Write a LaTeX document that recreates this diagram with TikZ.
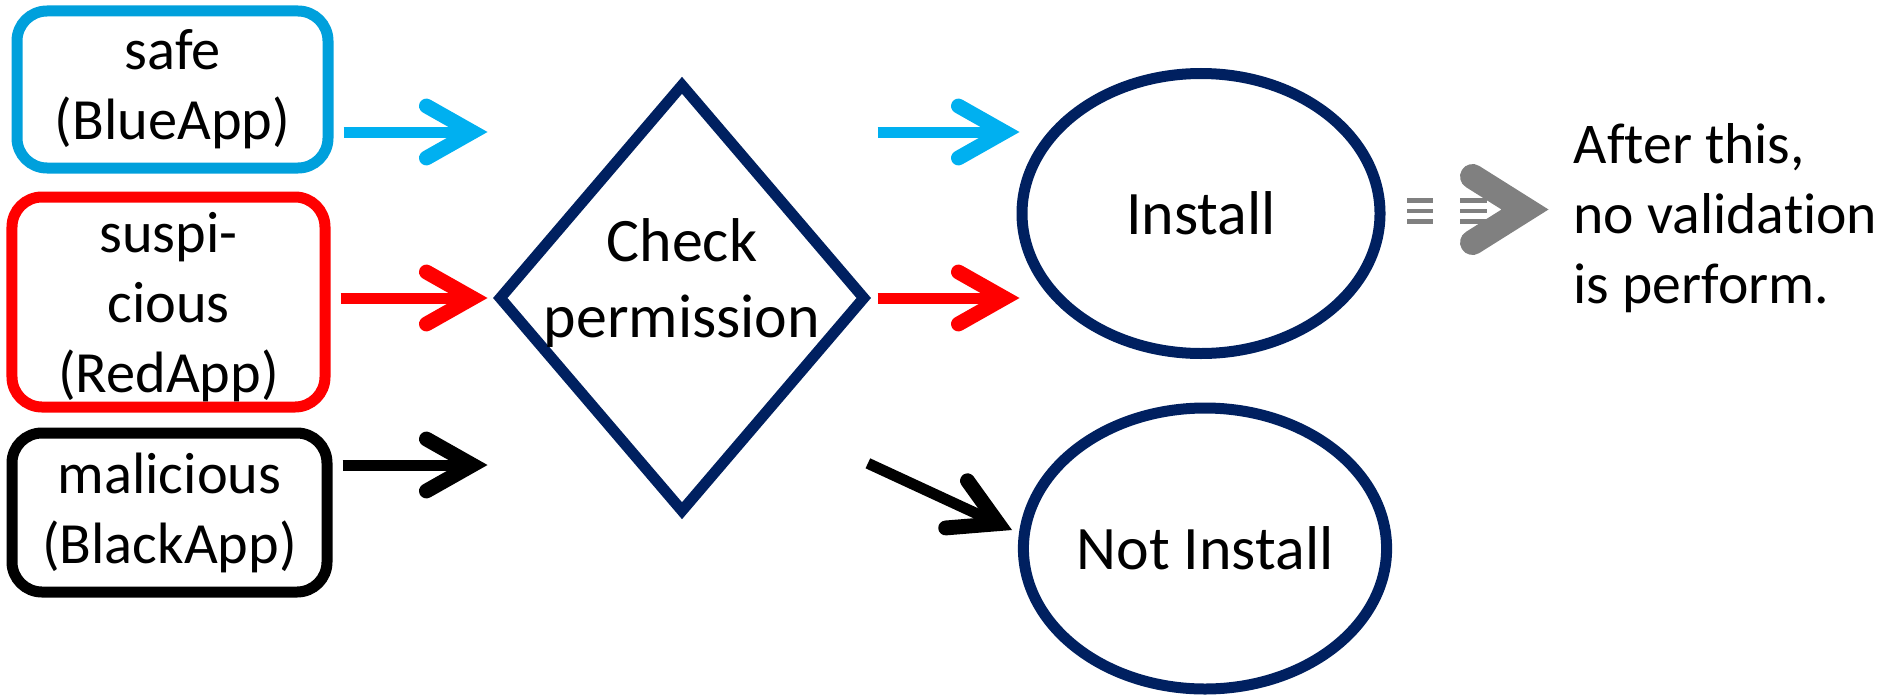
\documentclass[tikz,border=0pt]{standalone}
\usepackage{fontspec}
\setmainfont[Ligatures=NoCommon]{Carlito}
\usetikzlibrary{shapes.geometric,arrows.meta}
\definecolor{appblue}{RGB}{0,160,220}
\definecolor{arrblue}{RGB}{0,176,240}
\definecolor{navy}{RGB}{0,32,96}
\definecolor{icongray}{RGB}{128,128,128}
\begin{document}
\begin{tikzpicture}
  \tikzstyle{app}=[draw,rounded corners=3mm,line width=1.1mm,align=center,inner sep=0pt,font=\fontsize{16.6}{19.9}\selectfont]
  \tikzstyle{state}=[ellipse,draw=navy,line width=1.1mm,inner sep=0pt,minimum width=3.58cm,minimum height=2.8cm,font=\fontsize{17.6}{21}\selectfont]
  \tikzstyle{edge}=[line width=1.1mm,-{Straight Barb[length=4.6mm,width=5.2mm,line width=0pt 1.35,line cap=round,line join=miter]},shorten <=1mm,shorten >=0.5mm]
  \tikzstyle{fwd}=[edge,shorten <=0.6mm,shorten >=-0.3mm]
  \useasboundingbox (0,0) rectangle (18.89,6.95);
  % apps
  \node [app,draw=appblue,minimum width=3.11cm,minimum height=1.57cm] (safe) at (1.725,6.055) {safe\\(BlueApp)};
  \node [app,draw=red,minimum width=3.13cm,minimum height=2.1cm,text depth=0pt] (sus) at (1.685,3.93) {suspi-\\cious\\(RedApp)};
  \node [app,draw=black,minimum width=3.15cm,minimum height=1.59cm] (mal) at (1.695,1.825) {malicious\\(BlackApp)};
  % check and results
  \node [diamond,draw=navy,line width=1.1mm,inner sep=0pt,minimum width=3.68cm,minimum height=4.3cm,
    label={[align=center,yshift=1.5mm,font=\fontsize{17.6}{21.9}\selectfont]center:Check\\permission}] (check) at (6.82,3.97) {};
  \node [state] (install) at (12.01,4.815) {Install};
  \node [state,minimum width=3.6cm,minimum height=2.81cm] (notinst) at (12.05,1.465) {Not Install};
  \node [anchor=west,inner sep=0pt,align=left,font=\fontsize{16.4}{19.9}\selectfont] (note) at (15.73,4.765) {After this,\\no validation\\is perform.};
  \coordinate (rowA) at (0,5.63);
  \coordinate (rowC) at (0,2.30);
  \coordinate (notTip) at (10.12,1.65);
  % arrows
  \path[edge,arrblue] (safe.east |- rowA) edge (check.west |- rowA);
  \path[edge,red] (sus.east |- check.west) edge (check.west);
  \path[edge,black] (mal.east |- rowC) edge (check.west |- rowC);
  \path[fwd,arrblue] (check.east |- rowA) edge (install.west |- rowA);
  \path[fwd,red] (check.east) edge (check.east -| install.west);
  \path[fwd,black] (check.east |- rowC) edge [shorten <=-0.4mm,shorten >=0pt] (notTip);
  % icon
  \foreach \y in {4.945,4.84,4.733} {
    \fill[icongray] (14.07,\y-0.0225) rectangle (14.33,\y+0.0225);
    \fill[icongray] (14.60,\y-0.0225) rectangle (14.87,\y+0.0225);
  }
  \draw[icongray,line width=2.5mm,line cap=round,line join=miter] (14.725,5.185) -- (15.25,4.855) -- (14.725,4.525);
\end{tikzpicture}
\end{document}
